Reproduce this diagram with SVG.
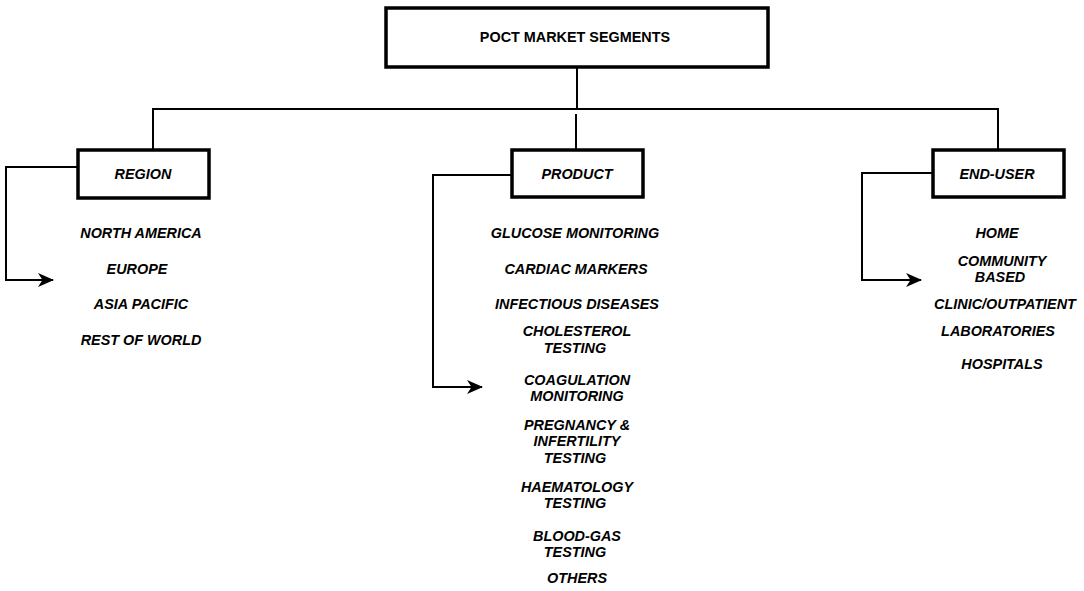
<svg xmlns="http://www.w3.org/2000/svg" width="1084" height="591" viewBox="0 0 1084 591">
<style>
.box{fill:#fff;stroke:#000;stroke-width:3.5}
.ln{fill:none;stroke:#000;stroke-width:2}
.t{font-family:"Liberation Sans",Arial,sans-serif;font-size:14.4px;font-weight:bold;font-style:italic;text-anchor:middle;fill:#000}
.title{font-style:normal}
</style>
<defs>
<marker id="arr" viewBox="0 0 16 14" refX="15" refY="7" markerWidth="16" markerHeight="14" markerUnits="userSpaceOnUse" orient="auto">
<path d="M0,0 L16,7 L0,14 L4.5,7 Z" fill="#000"/>
</marker>
</defs>
<g id="connectors">
<line class="ln" x1="577" y1="67" x2="577" y2="109"/>
<polyline class="ln" points="153,150 153,109 998,109 998,150"/>
<line class="ln" x1="576" y1="114" x2="576" y2="150"/>
<polyline class="ln" points="77,167 6,167 6,280 53,280" marker-end="url(#arr)"/>
<polyline class="ln" points="511,175 433,175 433,387 482,387" marker-end="url(#arr)"/>
<polyline class="ln" points="933,173 862,173 862,280 921,280" marker-end="url(#arr)"/>
</g>
<g id="root">
<rect class="box" x="386" y="8" width="382" height="59"/>
<text class="t title" x="575" y="42">POCT MARKET SEGMENTS</text>
</g>
<g id="region">
<rect class="box" x="78" y="150" width="131" height="48"/>
<text class="t" x="143" y="179">REGION</text>
</g>
<g id="region-items">
<text class="t" x="141" y="238">NORTH AMERICA</text>
<text class="t" x="137" y="274">EUROPE</text>
<text class="t" x="141" y="309">ASIA PACIFIC</text>
<text class="t" x="141" y="345">REST OF WORLD</text>
</g>
<g id="product">
<rect class="box" x="512" y="150" width="131" height="47"/>
<text class="t" x="577" y="179">PRODUCT</text>
</g>
<g id="product-items">
<text class="t" x="575" y="238">GLUCOSE MONITORING</text>
<text class="t" x="576" y="274">CARDIAC MARKERS</text>
<text class="t" x="577" y="309">INFECTIOUS DISEASES</text>
<text class="t" x="577" y="336">CHOLESTEROL</text>
<text class="t" x="575" y="353">TESTING</text>
<text class="t" x="577" y="385">COAGULATION</text>
<text class="t" x="577" y="401">MONITORING</text>
<text class="t" x="577" y="430">PREGNANCY &amp;</text>
<text class="t" x="577" y="446">INFERTILITY</text>
<text class="t" x="575" y="463">TESTING</text>
<text class="t" x="577" y="492">HAEMATOLOGY</text>
<text class="t" x="575" y="508">TESTING</text>
<text class="t" x="577" y="541">BLOOD-GAS</text>
<text class="t" x="575" y="557">TESTING</text>
<text class="t" x="577" y="583">OTHERS</text>
</g>
<g id="end-user">
<rect class="box" x="933" y="150" width="131" height="47"/>
<text class="t" x="997" y="179">END-USER</text>
</g>
<g id="end-user-items">
<text class="t" x="997" y="238">HOME</text>
<text class="t" x="1002" y="266">COMMUNITY</text>
<text class="t" x="1000" y="282">BASED</text>
<text class="t" x="1005" y="309">CLINIC/OUTPATIENT</text>
<text class="t" x="998" y="336">LABORATORIES</text>
<text class="t" x="1002" y="369">HOSPITALS</text>
</g>
</svg>
